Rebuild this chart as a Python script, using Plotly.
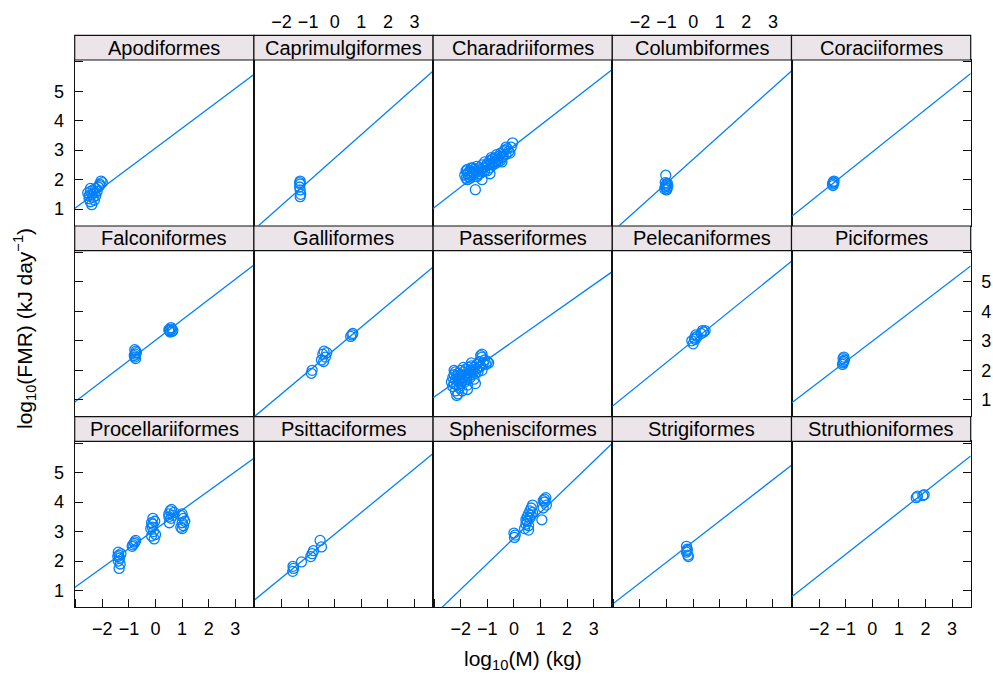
import plotly.graph_objects as go

# ---- data: log10 body mass (kg) and log10 field metabolic rate (kJ/day) by order ----
orders = [
    "Apodiformes", "Caprimulgiformes", "Charadriiformes", "Columbiformes", "Coraciiformes",
    "Falconiformes", "Galliformes", "Passeriformes", "Pelecaniformes", "Piciformes",
    "Procellariiformes", "Psittaciformes", "Sphenisciformes", "Strigiformes", "Struthioniformes",
]

# fitted line per order (intercept, slope) in log-log space
fit_intercept = [3.07, 2.73, 3.15, 2.69, 2.94, 3.02, 2.71, 3.00, 3.00, 2.99, 3.08, 2.91, 2.78, 2.66, 2.94]
fit_slope = [0.675, 0.80, 0.70, 0.81, 0.72, 0.69, 0.755, 0.635, 0.73, 0.69, 0.65, 0.74, 0.87, 0.70, 0.71]

apodiformes_x = [-2.55, -2.5, -2.5, -2.45, -2.45, -2.4, -2.4, -2.35, -2.35, -2.3, -2.3, -2.25, -2.25,
                 -2.2, -2.15, -2.1, -2.05, -2.0, -2.1, -2.45]
apodiformes_y = [1.55, 1.45, 1.35, 1.6, 1.25, 1.15, 1.5, 1.65, 1.4, 1.55, 1.3, 1.7, 1.45,
                 1.6, 1.75, 1.85, 1.95, 1.9, 1.8, 1.7]

caprimulgiformes_x = [-1.3, -1.3, -1.32, -1.3, -1.28, -1.3, -1.32]
caprimulgiformes_y = [1.95, 1.85, 1.75, 1.65, 1.5, 1.42, 1.9]

charadriiformes_x = [-1.85, -1.8, -1.8, -1.75, -1.75, -1.7, -1.7, -1.65, -1.6, -1.6, -1.55, -1.5, -1.5,
                     -1.45, -1.4, -1.4, -1.35, -1.3, -1.3, -1.25, -1.2, -1.2, -1.15, -1.1, -1.05,
                     -1.0, -1.0, -0.95, -0.9, -0.9, -0.85, -0.8, -0.8, -0.75, -0.7, -0.7, -0.65,
                     -0.6, -0.6, -0.55, -0.5, -0.5, -0.45, -0.4, -0.4, -0.35, -0.3, -0.25, -0.2,
                     -0.1, -0.05, -1.45, -1.2, -0.9, -1.75, -1.65, -1.55, -1.35, -1.1, -0.85,
                     -0.65, -0.45, -0.3, -0.15]
charadriiformes_y = [2.15, 2.3, 2.05, 2.2, 2.35, 2.1, 2.25, 2.3, 2.15, 2.4, 2.25, 2.2, 2.35,
                     2.3, 2.1, 2.45, 2.3, 2.2, 2.4, 2.35, 2.5, 2.25, 2.4, 2.6, 2.45,
                     2.3, 2.55, 2.5, 2.65, 2.4, 2.55, 2.7, 2.5, 2.6, 2.75, 2.55, 2.85,
                     2.7, 2.6, 2.8, 2.9, 2.65, 2.75, 2.95, 2.8, 3.0, 2.85, 3.05, 2.95,
                     3.1, 3.25, 1.66, 2.0, 2.2, 2.0, 2.05, 2.4, 2.15, 2.3, 2.75,
                     2.65, 2.6, 3.1, 2.9]

columbiformes_x = [-1.03, -1.05, -1.0, -1.02, -1.05, -0.98, -1.0, -0.95, -1.07, -0.97]
columbiformes_y = [2.15, 1.9, 1.85, 1.8, 1.75, 1.7, 1.65, 1.78, 1.68, 1.88]

coraciiformes_x = [-1.47, -1.45, -1.5, -1.48, -1.44]
coraciiformes_y = [1.92, 1.88, 1.85, 1.8, 1.95]

falconiformes_x = [-0.78, -0.76, -0.74, -0.78, -0.75, -0.72, -0.8, 0.55, 0.6, 0.52, 0.62, 0.58, 0.5, 0.65]
falconiformes_y = [2.45, 2.55, 2.65, 2.7, 2.4, 2.6, 2.5, 3.3, 3.4, 3.35, 3.32, 3.45, 3.38, 3.35]

galliformes_x = [-0.88, -0.85, -0.5, -0.45, -0.4, -0.35, -0.3, -0.42, 0.6, 0.68, 0.65]
galliformes_y = [1.9, 2.0, 2.35, 2.55, 2.65, 2.45, 2.6, 2.3, 3.15, 3.25, 3.2]

passeriformes_x = [-2.35, -2.3, -2.3, -2.25, -2.25, -2.2, -2.2, -2.2, -2.15, -2.15, -2.1, -2.1, -2.1,
                   -2.05, -2.05, -2.0, -2.0, -2.0, -1.95, -1.95, -1.9, -1.9, -1.85, -1.85, -1.8,
                   -1.8, -1.75, -1.75, -1.7, -1.7, -1.65, -1.65, -1.6, -1.6, -1.55, -1.5, -1.5,
                   -1.45, -1.4, -1.4, -1.35, -1.3, -1.3, -1.25, -1.2, -1.2, -1.15, -1.1, -1.05,
                   -1.0, -0.95, -2.15, -1.75, -1.45, -1.25, -1.2, -1.6, -1.9, -2.25]
passeriformes_y = [1.6, 1.75, 1.45, 1.55, 1.85, 1.3, 1.7, 1.95, 1.5, 1.8, 1.2, 1.65, 1.9,
                   1.4, 1.75, 1.55, 1.85, 2.0, 1.65, 1.3, 1.75, 1.95, 1.6, 1.85, 1.7,
                   2.05, 1.8, 1.5, 1.9, 2.1, 1.75, 2.0, 1.85, 2.15, 1.95, 1.7, 2.1,
                   1.9, 2.05, 2.2, 1.95, 2.1, 2.3, 2.15, 2.0, 2.45, 2.25, 2.35, 2.2,
                   2.3, 2.25, 1.15, 1.35, 1.55, 2.5, 2.55, 2.25, 2.1, 2.0]

pelecaniformes_x = [-0.05, 0.0, 0.05, 0.1, 0.15, 0.3, 0.35, 0.4, 0.45, 0.08]
pelecaniformes_y = [3.0, 2.9, 3.1, 3.2, 3.15, 3.25, 3.35, 3.3, 3.35, 3.05]

piciformes_x = [-1.1, -1.08, -1.1, -1.05, -1.12, -1.07]
piciformes_y = [2.4, 2.3, 2.25, 2.35, 2.2, 2.45]

procellariiformes_x = [-1.4, -1.38, -1.35, -1.4, -1.33, -1.37, -1.3, -1.42,
                       -0.85, -0.8, -0.75, -0.88, -0.78,
                       -0.15, -0.1, -0.12, -0.08, -0.15, -0.05, -0.1, -0.18, -0.03, 0.0,
                       0.5, 0.55, 0.6, 0.52, 0.65, 0.5, 0.58, 0.7,
                       0.95, 1.0, 1.0, 1.05, 0.95, 1.1, 1.0, 1.05]
procellariiformes_y = [2.3, 2.2, 2.1, 2.0, 1.9, 1.75, 2.25, 2.15,
                       2.55, 2.6, 2.7, 2.5, 2.65,
                       3.3, 3.45, 3.15, 3.0, 2.85, 2.75, 3.25, 3.1, 3.35, 2.9,
                       3.6, 3.7, 3.75, 3.3, 3.55, 3.5, 3.45, 3.65,
                       3.55, 3.6, 3.3, 3.2, 3.15, 3.35, 3.1, 3.45]

psittaciformes_x = [-1.58, -1.55, -1.57, -1.25, -0.9, -0.85, -0.8, -0.55, -0.5]
psittaciformes_y = [1.65, 1.75, 1.82, 1.97, 2.15, 2.25, 2.35, 2.7, 2.48]

sphenisciformes_x = [0.0, 0.02, 0.05, 0.4, 0.45, 0.5, 0.55, 0.5, 0.55, 0.6, 0.6, 0.65, 0.7, 0.65,
                     0.45, 0.55, 0.7, 1.05, 1.1, 1.15, 1.2, 1.15, 1.22, 1.1]
sphenisciformes_y = [2.95, 2.8, 2.88, 3.1, 3.25, 3.35, 3.2, 3.5, 3.6, 3.7, 3.45, 3.8, 3.9, 3.55,
                     3.4, 3.05, 3.65, 3.4, 3.8, 4.0, 4.15, 4.1, 3.9, 4.05]

strigiformes_x = [-0.25, -0.22, -0.25, -0.2, -0.23, -0.18]
strigiformes_y = [2.5, 2.4, 2.3, 2.2, 2.35, 2.15]

struthioniformes_x = [1.65, 1.7, 1.95, 1.9]
struthioniformes_y = [4.15, 4.2, 4.25, 4.22]

# labelled ticks, plus the unlabelled end ticks
x_tick_values = [-2, -1, 0, 1, 2, 3]
x_tick_labels = ["\u22122", "\u22121", "0", "1", "2", "3"]
x_bare_ticks = [-3]
y_tick_values = [1, 2, 3, 4, 5]
y_tick_labels = ["1", "2", "3", "4", "5"]
y_bare_ticks = [6]

points = {
    "Apodiformes": (apodiformes_x, apodiformes_y),
    "Caprimulgiformes": (caprimulgiformes_x, caprimulgiformes_y),
    "Charadriiformes": (charadriiformes_x, charadriiformes_y),
    "Columbiformes": (columbiformes_x, columbiformes_y),
    "Coraciiformes": (coraciiformes_x, coraciiformes_y),
    "Falconiformes": (falconiformes_x, falconiformes_y),
    "Galliformes": (galliformes_x, galliformes_y),
    "Passeriformes": (passeriformes_x, passeriformes_y),
    "Pelecaniformes": (pelecaniformes_x, pelecaniformes_y),
    "Piciformes": (piciformes_x, piciformes_y),
    "Procellariiformes": (procellariiformes_x, procellariiformes_y),
    "Psittaciformes": (psittaciformes_x, psittaciformes_y),
    "Sphenisciformes": (sphenisciformes_x, sphenisciformes_y),
    "Strigiformes": (strigiformes_x, strigiformes_y),
    "Struthioniformes": (struthioniformes_x, struthioniformes_y),
}

# ---- layout constants (pixels) ----
W, H = 993, 679
FONT = "Liberation Sans, Arial, Helvetica, sans-serif"
BLUE = "#0080ff"
FRAME = "#111111"
STRIP_FILL = "#ebe5e9"
X_RANGE = [-3.04, 3.70]
Y_RANGE = [0.44, 6.06]
PANEL_LEFT0, PANEL_W = 74.7, 179.2
PANEL_TOP0, ROW_STEP, PANEL_H, STRIP_H = 60.0, 190.7, 165.6, 24.7
TICK_FONT = dict(family=FONT, size=18, color="#000000")


def fx(p):
    return p / W


def fy(p):
    return 1 - p / H


fig = go.Figure()
layout_axes = {}
shapes = []
annotations = []

for i, name in enumerate(orders):
    r, c = divmod(i, 5)
    k = i + 1
    xa = "x" if k == 1 else f"x{k}"
    ya = "y" if k == 1 else f"y{k}"
    left = PANEL_LEFT0 + PANEL_W * c
    right = left + PANEL_W
    top = PANEL_TOP0 + ROW_STEP * r
    bottom = top + PANEL_H

    xs, ys = points[name]
    a, b = fit_intercept[i], fit_slope[i]
    fig.add_trace(go.Scatter(
        x=X_RANGE, y=[a + b * X_RANGE[0], a + b * X_RANGE[1]], mode="lines",
        line=dict(color=BLUE, width=1.3), xaxis=xa, yaxis=ya,
        showlegend=False, hoverinfo="skip"))
    fig.add_trace(go.Scatter(
        x=xs, y=ys, mode="markers",
        marker=dict(symbol="circle-open", size=10, color=BLUE, line=dict(width=1.3)),
        xaxis=xa, yaxis=ya, showlegend=False, name=name))

    bottom_row = r == 2
    x_ticks = "inside" if bottom_row else ""
    layout_axes["xaxis" if k == 1 else f"xaxis{k}"] = dict(
        domain=[fx(left), fx(right)], range=X_RANGE, anchor=ya,
        showgrid=False, zeroline=False, showline=True, mirror=True,
        linecolor=FRAME, linewidth=1,
        ticks=x_ticks, ticklen=8, tickwidth=1, tickcolor=FRAME,
        tickmode="array", tickvals=x_tick_values, ticktext=x_tick_labels,
        minor=dict(tickmode="array", tickvals=x_bare_ticks, ticks=x_ticks,
                   ticklen=8, tickwidth=1, tickcolor=FRAME, showgrid=False),
        showticklabels=bottom_row and c % 2 == 0, tickfont=TICK_FONT,
        ticklabelstandoff=5,
    )
    edge_col = c in (0, 4)
    y_ticks = "inside" if edge_col else ""
    layout_axes["yaxis" if k == 1 else f"yaxis{k}"] = dict(
        domain=[fy(bottom), fy(top)], range=Y_RANGE, anchor=xa,
        side="right" if c == 4 else "left",
        showgrid=False, zeroline=False, showline=True, mirror=True,
        linecolor=FRAME, linewidth=1,
        ticks=y_ticks, ticklen=8, tickwidth=1, tickcolor=FRAME,
        tickmode="array", tickvals=y_tick_values, ticktext=y_tick_labels,
        minor=dict(tickmode="array", tickvals=y_bare_ticks, ticks=y_ticks,
                   ticklen=8, tickwidth=1, tickcolor=FRAME, showgrid=False),
        showticklabels=(c == 0 and r != 1) or (c == 4 and r == 1), tickfont=TICK_FONT,
        ticklabelstandoff=6,
    )

    # strip with the order name
    shapes.append(dict(type="rect", xref="paper", yref="paper",
                       x0=fx(left), x1=fx(right), y0=fy(top), y1=fy(top - STRIP_H),
                       fillcolor=STRIP_FILL, line=dict(color=FRAME, width=1.2), layer="above"))
    annotations.append(dict(text=name, xref="paper", yref="paper",
                            x=fx((left + right) / 2), y=fy(top - STRIP_H / 2),
                            showarrow=False, xanchor="center", yanchor="middle",
                            font=dict(family=FONT, size=20, color="#000000")))

# tick labels above the strips for the 2nd and 4th columns
strip_top = PANEL_TOP0 - STRIP_H
for extra, base in ((16, 2), (17, 4)):
    layout_axes[f"xaxis{extra}"] = dict(
        overlaying=f"x{base}", anchor="free", position=fy(strip_top), side="top",
        range=X_RANGE, showgrid=False, zeroline=False, showline=False, ticks="",
        tickmode="array", tickvals=x_tick_values, ticktext=x_tick_labels,
        tickfont=TICK_FONT, ticklabelstandoff=4,
    )
    fig.add_trace(go.Scatter(x=[None], y=[None], xaxis=f"x{extra}", yaxis=f"y{base}",
                             showlegend=False, hoverinfo="skip"))

annotations.append(dict(text="log<sub>10</sub>(M) (kg)", xref="paper", yref="paper",
                        x=fx(PANEL_LEFT0 + 2.5 * PANEL_W), y=fy(660),
                        showarrow=False, xanchor="center", yanchor="middle",
                        font=dict(family=FONT, size=21, color="#000000")))
annotations.append(dict(text="log<sub>10</sub>(FMR) (kJ day<sup>\u22121</sup>)", xref="paper", yref="paper",
                        x=fx(24), y=fy(329), textangle=-90,
                        showarrow=False, xanchor="center", yanchor="middle",
                        font=dict(family=FONT, size=21, color="#000000")))

fig.update_layout(
    width=W, height=H, margin=dict(l=0, r=0, t=0, b=0),
    paper_bgcolor="white", plot_bgcolor="white",
    showlegend=False, shapes=shapes, annotations=annotations,
    font=dict(family=FONT, color="#000000"),
    **layout_axes,
)

fig.write_html("out.html")
